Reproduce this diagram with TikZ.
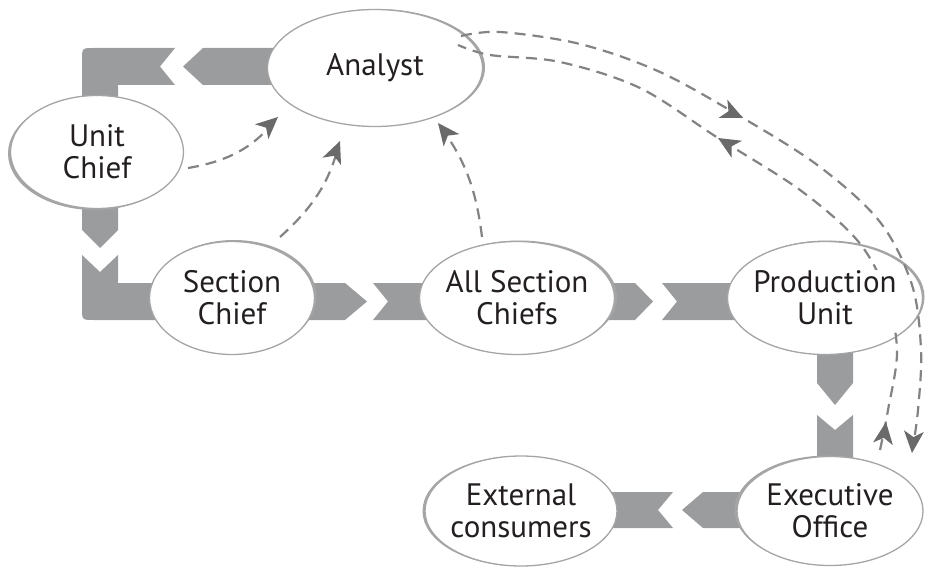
\documentclass[tikz,border=0pt]{standalone}
\usepackage{fontspec}
\setmainfont{PT Sans}
\usetikzlibrary{shapes.geometric}
\definecolor{band}{HTML}{9B9C9E}
\definecolor{ellline}{HTML}{A5A5A5}
\definecolor{dashc}{HTML}{838383}
\definecolor{tipc}{HTML}{6A6A6A}
\definecolor{txt}{HTML}{231F20}
\begin{document}
\begin{tikzpicture}[x=1pt,y=-1pt,
  bandfill/.style={fill=band},
  ell/.style={ellipse, draw=ellline, line width=1.3pt, fill=white, inner sep=0pt,
    preaction={fill=ellline, transform canvas={shift={#1}}}},
  lbl/.style={font=\fontsize{31}{32}\selectfont, text=txt, align=center, fill=white, inner sep=0.5pt},
  dsh/.style={draw=dashc, line width=2.2pt, dash pattern=on 11pt off 7pt},
  headfill/.style={fill=tipc}]
\useasboundingbox (0,0) rectangle (925,569);

% ---- broad chevron bands ----
\fill[bandfill] (300,48) -- (203,48) -- (183,66.5) -- (203,85) -- (300,85) -- cycle;
\fill[bandfill] (175,48) -- (160,66.5) -- (175,85) -- (118,85) -- (118,130) -- (82,130) -- (82,60) .. controls (82,48) .. (94,48) -- cycle;
\fill[bandfill] (82,180) -- (82,230) -- (100,248) -- (118,230) -- (118,180) -- cycle;
\fill[bandfill] (82,255) -- (100,272) -- (118,255) -- (118,283) -- (180,283) -- (180,320) -- (94,320) .. controls (82,320) .. (82,308) -- cycle;
\fill[bandfill] (290,283) -- (345,283) -- (367,301.5) -- (345,320) -- (290,320) -- cycle;
\fill[bandfill] (373,283) -- (388,301.5) -- (373,320) -- (450,320) -- (450,283) -- cycle;
\fill[bandfill] (590,283) -- (635,283) -- (653,301.5) -- (635,320) -- (590,320) -- cycle;
\fill[bandfill] (662,283) -- (677,301.5) -- (662,320) -- (760,320) -- (760,283) -- cycle;
\fill[bandfill] (817,330) -- (817,383) -- (835,405) -- (853,383) -- (853,330) -- cycle;
\fill[bandfill] (817,415) -- (835,430) -- (853,415) -- (853,480) -- (817,480) -- cycle;
\fill[bandfill] (760,492) -- (703,492) -- (682,510) -- (703,528) -- (760,528) -- cycle;
\fill[bandfill] (673,492) -- (658,510) -- (673,528) -- (590,528) -- (590,492) -- cycle;

% ---- ellipses ----
\node[ell={(2.5,-0.5)}, minimum width=215pt, minimum height=117pt] (analyst) at (375,68) {};
\node[ell={(-2.5,1.5)}, minimum width=173pt, minimum height=113pt] (unit) at (97,152) {};
\node[ell={(2,-1.5)}, minimum width=165pt, minimum height=113pt] (sect) at (232,298) {};
\node[ell={(2.5,-1)}, minimum width=195pt, minimum height=113pt] (allsec) at (517,298) {};
\node[ell={(2,-1)}, minimum width=195pt, minimum height=113pt] (prod) at (825,298) {};
\node[ell={(-2.5,-1)}, minimum width=186pt, minimum height=109pt] (exec) at (830,511) {};
\node[ell={(-2.5,0)}, minimum width=192pt, minimum height=110pt] (ext) at (521,511) {};

% ---- dashed connectors ----
\coordinate (ua) at (188,168);  \coordinate (ut) at (278,117);
\coordinate (sa) at (280,237);  \coordinate (st) at (340,141);
\coordinate (aa) at (482,237);  \coordinate (at) at (438,123);
\coordinate (oS) at (461,36);   \coordinate (oE) at (912,453);
\coordinate (iS) at (880,450);  \coordinate (iE) at (458,45);
\coordinate (oM) at (743,118);  \coordinate (iM) at (718,138);
\coordinate (iH) at (886,422);

\draw[dsh,shorten >=10pt] (ua) to[bend right=20] (ut);
\draw[dsh,shorten >=10pt] (sa) to[bend right=16] (st);
\draw[dsh,shorten >=10pt] (aa) to[bend right=14] (at);
\draw[dsh,shorten >=10pt]
  plot[smooth,tension=0.55] coordinates {(oS) (500,32) (580,44) (660,72) (oM) (820,167) (880,222) (912,285) (921,350) (918,410) (oE)};
\draw[dsh]
  plot[smooth,tension=0.55] coordinates {(iS) (888,410) (897,350) (885,290) (857,240) (800,190) (iM) (640,88) (560,62) (490,55) (iE)};

% ---- arrowheads ----
\foreach \p/\a in {ut/42, st/68, at/128, oM/-25, iM/149, oE/-95, iH/82}
  \fill[headfill, shift={(\p)}, rotate=\a] (0,0) -- (-22,10) -- (-16,0) -- (-22,-10) -- cycle;

% ---- labels ----
\node[lbl] (analyst-l) at (analyst) {Analyst};
\node[lbl] (unit-l) at (unit) {Unit\\Chief};
\node[lbl] (sect-l) at (sect) {Section\\Chief};
\node[lbl] (allsec-l) at (allsec) {All Section\\Chiefs};
\node[lbl] (prod-l) at (prod) {Production\\Unit};
\node[lbl] (exec-l) at (exec) {Executive\\Office};
\node[lbl] (ext-l) at (ext) {External\\consumers};
\end{tikzpicture}
\end{document}
